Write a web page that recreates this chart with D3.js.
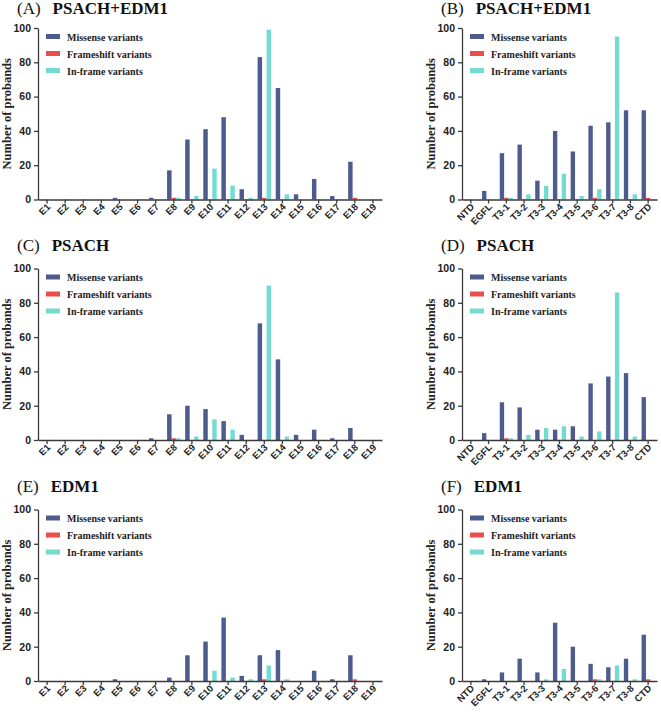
<!DOCTYPE html>
<html>
<head>
<meta charset="utf-8">
<script src="https://cdn.jsdelivr.net/npm/d3@7"></script>
<style>
  body { margin: 0; background: #fff; }
  svg { display: block; }
</style>
</head>
<body>
<div id="chart"></div>
<script>
// categories
var exonCats = ["E1","E2","E3","E4","E5","E6","E7","E8","E9","E10","E11","E12","E13","E14","E15","E16","E17","E18","E19"];
var domainCats = ["NTD","EGFL","T3-1","T3-2","T3-3","T3-4","T3-5","T3-6","T3-7","T3-8","CTD"];
var seriesNames = ["Missense variants","Frameshift variants","In-frame variants"];
var yTicks = [0,20,40,60,80,100];

// (A) PSACH+EDM1 by exon
var aMissense   = [0,0,0,0,1,0,1,17,35,41,48,6,83,65,3,12,2,22,0];
var aFrameshift = [0,0,0,0,0,0,0,1,0,0,0,0,1,0,0,0,0,1,0];
var aInframe    = [0,0,0,0,0,0,0,1,2,18,8,1,99,3,0,0,0,0,0];
// (B) PSACH+EDM1 by domain
var bMissense   = [0,5,27,32,11,40,28,43,45,52,52];
var bFrameshift = [0,0,1,0,0,0,0,1,0,0,1];
var bInframe    = [0,0,1,3,8,15,2,6,95,3,0];
// (C) PSACH by exon
var cMissense   = [0,0,0,0,0,0,1,15,20,18,11,3,68,47,3,6,1,7,0];
var cFrameshift = [0,0,0,0,0,0,0,1,0,0,0,0,0,0,0,0,0,0,0];
var cInframe    = [0,0,0,0,0,0,0,1,2,12,6,0,90,2,0,0,0,0,0];
// (D) PSACH by domain
var dMissense   = [0,4,22,19,6,6,8,33,37,39,25];
var dFrameshift = [0,0,1,0,0,0,0,0,0,0,0];
var dInframe    = [0,0,1,3,7,8,2,5,86,2,0];
// (E) EDM1 by exon
var eMissense   = [0,0,0,0,1,0,0,2,15,23,37,3,15,18,0,6,1,15,0];
var eFrameshift = [0,0,0,0,0,0,0,0,0,0,0,0,1,0,0,0,0,1,0];
var eInframe    = [0,0,0,0,0,0,0,0,0,6,2,1,9,1,0,0,0,0,0];
// (F) EDM1 by domain
var fMissense   = [0,1,5,13,5,34,20,10,8,13,27];
var fFrameshift = [0,0,0,0,0,0,0,1,0,0,1];
var fInframe    = [0,0,0,0,1,7,0,1,9,1,0];

var width = 661, height = 713;
var colors = ["#4d5b8e", "#e8504c", "#74dbd2"];
var axisColor = "#3a3a3a";

var svg = d3.select("#chart").append("svg")
  .attr("width", width)
  .attr("height", height)
  .style("background", "#fff");

var panels = [
  {letter: "(A)", name: "PSACH+EDM1", cats: exonCats,   series: [aMissense, aFrameshift, aInframe], x0: 38,  x1: 382, top: 28,    titleY: 14},
  {letter: "(B)", name: "PSACH+EDM1", cats: domainCats, series: [bMissense, bFrameshift, bInframe], x0: 462, x1: 657, top: 28,    titleY: 14},
  {letter: "(C)", name: "PSACH",      cats: exonCats,   series: [cMissense, cFrameshift, cInframe], x0: 38,  x1: 382, top: 268.5, titleY: 251},
  {letter: "(D)", name: "PSACH",      cats: domainCats, series: [dMissense, dFrameshift, dInframe], x0: 462, x1: 657, top: 268.5, titleY: 251},
  {letter: "(E)", name: "EDM1",       cats: exonCats,   series: [eMissense, eFrameshift, eInframe], x0: 38,  x1: 382, top: 509.5, titleY: 492},
  {letter: "(F)", name: "EDM1",       cats: domainCats, series: [fMissense, fFrameshift, fInframe], x0: 462, x1: 657, top: 509.5, titleY: 492}
];

var plotH = 171.5;

panels.forEach(function(p) {
  var g = svg.append("g");
  var bottom = p.top + plotH;

  var x = d3.scaleBand().domain(p.cats).range([p.x0, p.x1]).paddingInner(0.26).paddingOuter(0.13);
  var xs = d3.scaleBand().domain(seriesNames).range([0, x.bandwidth()]);
  var y = d3.scaleLinear().domain([0, 100]).range([bottom, p.top]);

  // title
  var title = g.append("text")
    .attr("x", p.x0 - 21)
    .attr("y", p.titleY)
    .style("font-family", "'Liberation Serif', 'Times New Roman', serif")
    .style("font-size", "17px")
    .style("fill", "#111");
  title.append("tspan").text(p.letter);
  title.append("tspan").attr("dx", 12).style("font-weight", "bold").text(p.name);

  // bars
  p.series.forEach(function(vals, si) {
    g.selectAll(null)
      .data(vals.map(function(v, i) { return {cat: p.cats[i], v: v}; }).filter(function(d) { return d.v > 0; }))
      .enter().append("rect")
      .attr("x", function(d) { return x(d.cat) + xs(seriesNames[si]); })
      .attr("width", xs.bandwidth())
      .attr("y", function(d) { return y(d.v); })
      .attr("height", function(d) { return bottom - y(d.v); })
      .attr("fill", colors[si]);
  });

  // y axis
  var ya = g.append("g")
    .attr("transform", "translate(" + p.x0 + ",0)")
    .call(d3.axisLeft(y).tickValues(yTicks).tickSize(4).tickSizeOuter(0));
  ya.selectAll("text")
    .style("font-family", "'Liberation Sans', Arial, sans-serif")
    .style("font-weight", "bold")
    .style("font-size", "10.5px")
    .style("fill", "#222");

  // x axis
  var xa = g.append("g")
    .attr("transform", "translate(0," + bottom + ")")
    .call(d3.axisBottom(x).tickSize(4).tickSizeOuter(0));
  xa.selectAll("text")
    .attr("text-anchor", "end")
    .attr("dy", null)
    .attr("y", null)
    .attr("transform", "translate(4,8) rotate(-45)")
    .style("font-family", "'Liberation Sans', Arial, sans-serif")
    .style("font-weight", "bold")
    .style("font-size", "9.5px")
    .style("fill", "#222");

  [ya, xa].forEach(function(a) {
    a.selectAll("path, line").attr("stroke", axisColor).attr("stroke-width", 1.3);
  });

  // y label
  g.append("text")
    .attr("transform", "translate(" + (p.x0 - 27) + "," + (p.top + plotH / 2) + ") rotate(-90)")
    .attr("text-anchor", "middle")
    .style("font-family", "'Liberation Serif', 'Times New Roman', serif")
    .style("font-weight", "bold")
    .style("font-size", "12.5px")
    .style("fill", "#222")
    .text("Number of probands");

  // legend
  var leg = g.selectAll(".leg")
    .data(seriesNames)
    .enter().append("g")
    .attr("transform", function(d, i) { return "translate(" + (p.x0 + 8) + "," + (p.top + 9 + i * 17) + ")"; });
  leg.append("rect")
    .attr("width", 14).attr("height", 5)
    .attr("y", -3)
    .attr("fill", function(d, i) { return colors[i]; });
  leg.append("text")
    .attr("x", 21)
    .attr("y", 3.5)
    .style("font-family", "'Liberation Serif', 'Times New Roman', serif")
    .style("font-weight", "bold")
    .style("font-size", "10px")
    .style("fill", "#222")
    .text(function(d) { return d; });
});
</script>
</body>
</html>
